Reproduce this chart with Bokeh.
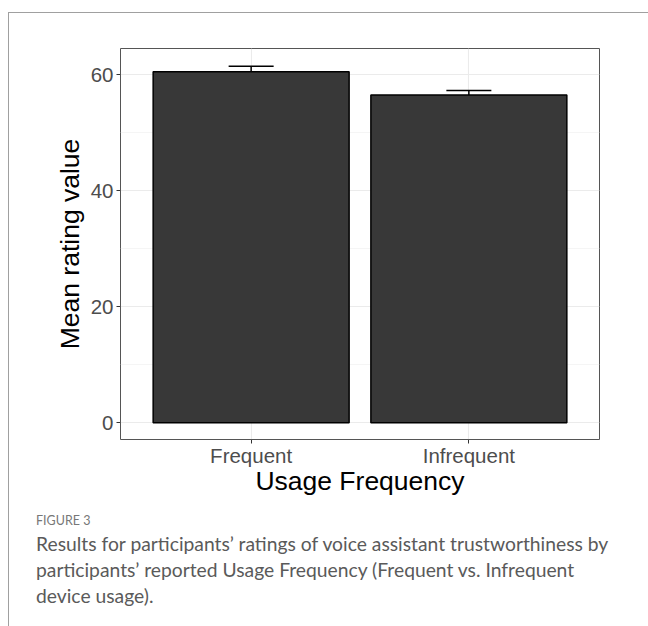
from bokeh.plotting import figure
from bokeh.models import ColumnDataSource, Whisker, TeeHead, FactorRange, FixedTicker, Div, Range1d
from bokeh.layouts import column
from bokeh.embed import file_html
from bokeh.resources import INLINE

categories = ["Frequent", "Infrequent"]
means = [60.5, 56.5]
errors = [0.95, 0.75]
y_ticks = [0, 20, 40, 60]
y_minor = [10, 30, 50]

lower = [m - e for m, e in zip(means, errors)]
upper = [m + e for m, e in zip(means, errors)]
src = ColumnDataSource(dict(x=categories, top=means, lower=lower, upper=upper))

p = figure(x_range=FactorRange(*categories, range_padding=0.1, range_padding_units="percent"),
           y_range=Range1d(-2.9, 64.5), width=639, height=496,
           output_backend="svg", toolbar_location=None,
           min_border_left=111, min_border_right=49, min_border_top=35, min_border_bottom=70)

p.vbar(x="x", top="top", bottom=0, width=0.9, source=src,
       fill_color="#383838", line_color="black", line_width=1.5)
head_u = TeeHead(size=45, line_width=1.5, line_color="black")
head_l = TeeHead(size=45, line_width=1.5, line_color="black")
p.add_layout(Whisker(base="x", upper="upper", lower="lower", source=src,
                     line_width=1.5, line_color="black", upper_head=head_u, lower_head=head_l))

p.outline_line_color = "#555555"
p.outline_line_width = 1
p.background_fill_color = "white"
p.border_fill_color = "white"

p.yaxis.ticker = FixedTicker(ticks=y_ticks)
p.ygrid.ticker = FixedTicker(ticks=y_ticks, minor_ticks=y_minor)
p.ygrid.grid_line_color = "#EBEBEB"
p.ygrid.grid_line_width = 1.1
p.ygrid.minor_grid_line_color = "#F2F2F2"
p.ygrid.minor_grid_line_width = 0.8
p.xgrid.grid_line_color = "#EBEBEB"
p.xgrid.grid_line_width = 1.1

for ax in (p.xaxis, p.yaxis):
    ax.axis_line_color = None
    ax.major_tick_line_color = "#333333"
    ax.major_tick_out = 4
    ax.major_tick_in = 0
    ax.minor_tick_line_color = None
    ax.major_label_text_font = "Liberation Sans"
    ax.major_label_text_font_size = "20.5px"
    ax.major_label_text_color = "#4D4D4D"
    ax.axis_label_text_font = "Liberation Sans"
    ax.axis_label_text_font_size = "26.5px"
    ax.axis_label_text_font_style = "normal"
    ax.axis_label_text_color = "black"

p.yaxis.axis_label = "Mean rating value"
p.xaxis.axis_label = "Usage Frequency"
p.yaxis.major_label_standoff = 3
p.yaxis.axis_label_standoff = 3
p.xaxis.major_label_standoff = 0
p.xaxis.axis_label_standoff = -4

caption = Div(text=(
    '<div style="font-family:Lato; padding-left:22px;">'
    '<div style="font-size:12.5px; color:#777777; line-height:14px; padding-top:0px;">FIGURE 3</div>'
    '<div style="font-size:19.3px; color:#5a5a5a; line-height:26px; margin-top:3px;">'
    'Results for participants\u2019 ratings of voice assistant trustworthiness by<br>'
    'participants\u2019 reported Usage Frequency (Frequent vs. Infrequent<br>'
    'device usage).</div></div>'), width=639, height=116)

layout = column(p, caption, margin=(12, 0, 0, 8),
                styles={"border-top": "1px solid #a0a0a0", "border-left": "1px solid #a0a0a0"})

open("out.html", "w").write(file_html(layout, INLINE))
